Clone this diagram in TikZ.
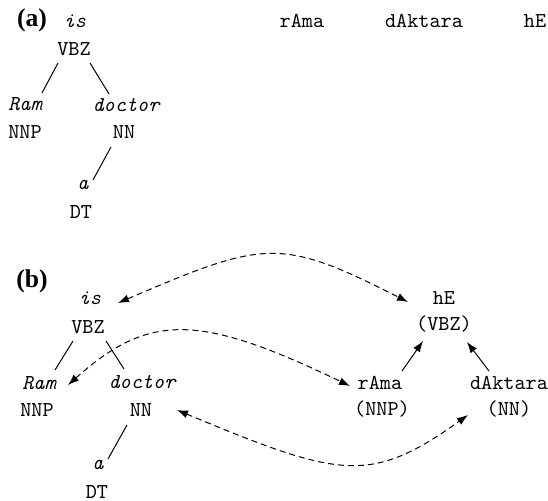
\documentclass[tikz,border=0pt]{standalone}
\usepackage{fontspec}
\newfontfamily\labelfont{Liberation Serif}
\usetikzlibrary{arrows.meta,calc}
\begin{document}
\begin{tikzpicture}[x=0.5pt,y=-0.5pt,
  tt/.style={font=\fontsize{10.6}{12}\selectfont\ttfamily, inner sep=0pt},
  tti/.style={font=\fontsize{10.6}{12}\selectfont\ttfamily\itshape, inner sep=0pt},
  lab/.style={font=\fontsize{12.8}{14}\selectfont\labelfont\bfseries, inner sep=0pt},
  treeline/.style={line width=0.5pt},
  dep/.style={line width=0.5pt, -{Latex[length=5.5pt,width=4pt]}},
  alignarrow/.style={line width=0.5pt, dash pattern=on 3pt off 2pt, {Latex[length=5.5pt,width=4pt]}-{Latex[length=5.5pt,width=4pt]}}]
\useasboundingbox (0,0) rectangle (548,501);
% panel (a)
\node[lab] (la) at (32,20) {(a)};
\node[tti] (is1) at (75,21) {is};
\node[tt] (vbz1) at (74,49) {VBZ};
\node[tti] (ram1) at (25,104) {Ram};
\node[tti] (doc1) at (126,105) {doctor};
\node[tt] (nnp1) at (25,132) {NNP};
\node[tt] (nn1) at (124,132) {NN};
\node[tti] (a1) at (83,185) {a};
\node[tt] (dt1) at (81,212) {DT};
\node[tt] (rama1) at (302,21) {rAma};
\node[tt] (dak1) at (424,21) {dAktara};
\node[tt] (he1) at (535,21) {hE};
\draw[treeline] ($(vbz1)+(-16,14)$) -- ($(ram1)+(17,-11)$);
\draw[treeline] ($(vbz1)+(16,14)$) -- ($(doc1)+(-17,-11)$);
\draw[treeline] ($(nn1)+(-13,15)$) -- ($(a1)+(10,-5)$);
% panel (b)
\node[lab] (lb) at (32,281) {(b)};
\node[tti] (is2) at (90,298) {is};
\node[tt] (vbz2) at (88,327) {VBZ};
\node[tti] (ram2) at (39,383) {Ram};
\node[tti] (doc2) at (142,382) {doctor};
\node[tt] (nnp2) at (37,410) {NNP};
\node[tt] (nn2) at (141,410) {NN};
\node[tti] (a2) at (98,465) {a};
\node[tt] (dt2) at (97,492) {DT};
\node[tt] (he2) at (444,298) {hE};
\node[tt] (he2t) at (444,324) {(VBZ)};
\node[tt] (rama2) at (380,383) {rAma};
\node[tt] (rama2t) at (382,409) {(NNP)};
\node[tt] (dak2) at (509,383) {dAktara};
\node[tt] (dak2t) at (509,409) {(NN)};
\draw[treeline] ($(vbz2)+(-15,14)$) -- ($(ram2)+(16,-13)$);
\draw[treeline] ($(vbz2)+(18,14)$) -- ($(doc2)+(-18,-13)$);
\draw[treeline] ($(nn2)+(-14,15)$) -- ($(a2)+(10,-6)$);
\draw[dep] ($(rama2)+(22,-12)$) -- ($(he2t)+(-21,17)$);
\draw[dep] ($(dak2)+(-20,-12)$) -- ($(he2t)+(23,18)$);
\draw[alignarrow] ($(is2)+(28,5)$) .. controls (265,240) and (280,237) .. ($(he2)+(-36,4)$);
\draw[alignarrow] ($(ram2)+(29,2)$) .. controls (150,312) and (200,314) .. ($(rama2)+(-30,3)$);
\draw[alignarrow] ($(nn2)+(36,0)$) .. controls (340,478) and (370,485) .. ($(dak2t)+(-41,6)$);
\end{tikzpicture}
\end{document}
